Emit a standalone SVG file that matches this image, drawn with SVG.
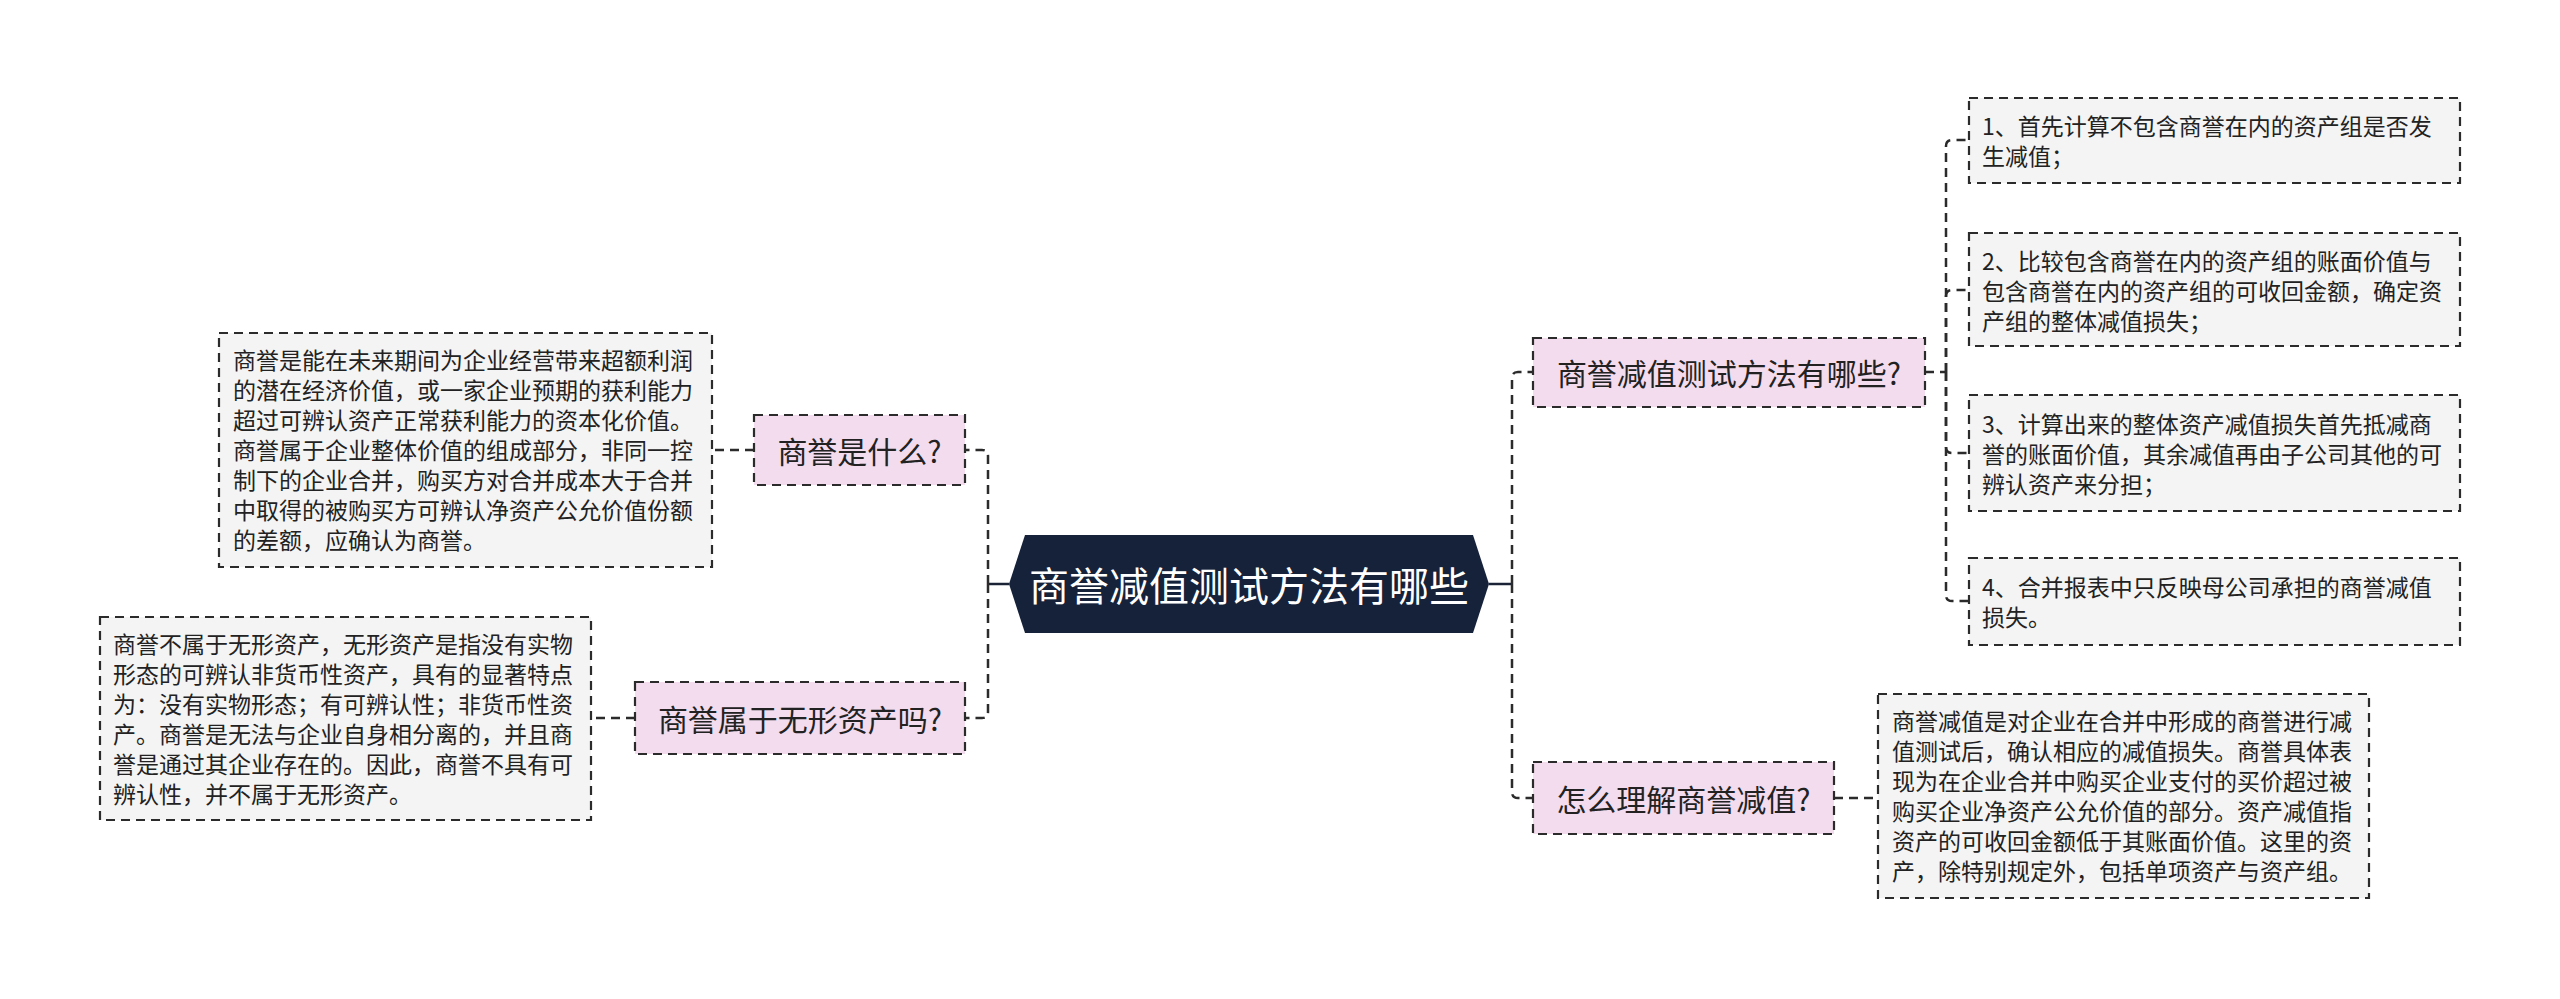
<svg xmlns="http://www.w3.org/2000/svg" width="2560" height="999" viewBox="0 0 2560 999">
<style>
.bg{fill:#ffffff}
.conn{fill:none;stroke:#2b2b2b;stroke-width:2.5;stroke-dasharray:9 6}
.solid{fill:none;stroke:#1a2436;stroke-width:2.5}
.topic{fill:#f3dcee;stroke:#2b2b2b;stroke-width:2.2;stroke-dasharray:9 6}
.note{fill:#f4f4f4;stroke:#2b2b2b;stroke-width:2.2;stroke-dasharray:9 6}
.center{fill:#16223a}
.ct{font-family:"Noto Sans CJK SC","Noto Sans",sans-serif;font-size:40px;fill:#ffffff;text-anchor:middle;dominant-baseline:central}
.tt{font-family:"Noto Sans CJK SC","Noto Sans",sans-serif;font-size:30px;fill:#222222;text-anchor:middle;dominant-baseline:central}
.nt{font-family:"Noto Sans CJK SC","Noto Sans",sans-serif;font-size:23px;fill:#222222;dominant-baseline:central}
</style>
<rect class="bg" x="0" y="0" width="2560" height="999"/>
<g id="connectors">
<path class="solid" d="M1009,584 H988"/>
<path class="conn" d="M988,584 V456 Q988,450 982,450 H965"/>
<path class="conn" d="M988,584 V712 Q988,718 982,718 H965"/>
<path class="solid" d="M1489,584 H1512"/>
<path class="conn" d="M1512,584 V378 Q1512,372 1518,372 H1533"/>
<path class="conn" d="M1512,584 V792 Q1512,798 1518,798 H1533"/>
<path class="conn" d="M754,450 H712"/>
<path class="conn" d="M635,718 H591"/>
<path class="conn" d="M1834,798 H1878"/>
<path class="conn" d="M1925,372 H1946"/>
<path class="conn" d="M1946,372 V146 Q1946,140 1952,140 H1969"/>
<path class="conn" d="M1946,372 V296 Q1946,290 1952,290 H1969"/>
<path class="conn" d="M1946,372 V447 Q1946,453 1952,453 H1969"/>
<path class="conn" d="M1946,372 V595 Q1946,601 1952,601 H1969"/>
</g>
<g id="center">
<polygon class="center" points="1009,584 1025,535 1473,535 1489,584 1473,633 1025,633"/>
<text class="ct" x="1249" y="584">商誉减值测试方法有哪些</text>
</g>
<g id="n-what">
<rect class="topic" x="754" y="415" width="211" height="70"/>
<text class="tt" x="859.5" y="450">商誉是什么?</text>
</g>
<g id="n-what-note">
<rect class="note" x="219" y="333" width="493" height="234"/>
<text class="nt" x="233" y="359">商誉是能在未来期间为企业经营带来超额利润</text>
<text class="nt" x="233" y="389">的潜在经济价值，或一家企业预期的获利能力</text>
<text class="nt" x="233" y="419">超过可辨认资产正常获利能力的资本化价值。</text>
<text class="nt" x="233" y="449">商誉属于企业整体价值的组成部分，非同一控</text>
<text class="nt" x="233" y="479">制下的企业合并，购买方对合并成本大于合并</text>
<text class="nt" x="233" y="509">中取得的被购买方可辨认净资产公允价值份额</text>
<text class="nt" x="233" y="539">的差额，应确认为商誉。</text>
</g>
<g id="n-intangible">
<rect class="topic" x="635" y="682" width="330" height="72"/>
<text class="tt" x="800" y="718">商誉属于无形资产吗?</text>
</g>
<g id="n-intangible-note">
<rect class="note" x="100" y="617" width="491" height="203"/>
<text class="nt" x="113" y="643">商誉不属于无形资产，无形资产是指没有实物</text>
<text class="nt" x="113" y="673">形态的可辨认非货币性资产，具有的显著特点</text>
<text class="nt" x="113" y="703">为：没有实物形态；有可辨认性；非货币性资</text>
<text class="nt" x="113" y="733">产。商誉是无法与企业自身相分离的，并且商</text>
<text class="nt" x="113" y="763">誉是通过其企业存在的。因此，商誉不具有可</text>
<text class="nt" x="113" y="793">辨认性，并不属于无形资产。</text>
</g>
<g id="n-methods">
<rect class="topic" x="1533" y="338" width="392" height="69"/>
<text class="tt" x="1729" y="372">商誉减值测试方法有哪些?</text>
</g>
<g id="n-item1">
<rect class="note" x="1969" y="98" width="491" height="85"/>
<text class="nt" x="1982" y="125">1、首先计算不包含商誉在内的资产组是否发</text>
<text class="nt" x="1982" y="155">生减值；</text>
</g>
<g id="n-item2">
<rect class="note" x="1969" y="233" width="491" height="113"/>
<text class="nt" x="1982" y="260">2、比较包含商誉在内的资产组的账面价值与</text>
<text class="nt" x="1982" y="290">包含商誉在内的资产组的可收回金额，确定资</text>
<text class="nt" x="1982" y="320">产组的整体减值损失；</text>
</g>
<g id="n-item3">
<rect class="note" x="1969" y="395" width="491" height="116"/>
<text class="nt" x="1982" y="423">3、计算出来的整体资产减值损失首先抵减商</text>
<text class="nt" x="1982" y="453">誉的账面价值，其余减值再由子公司其他的可</text>
<text class="nt" x="1982" y="483">辨认资产来分担；</text>
</g>
<g id="n-item4">
<rect class="note" x="1969" y="558" width="491" height="87"/>
<text class="nt" x="1982" y="586">4、合并报表中只反映母公司承担的商誉减值</text>
<text class="nt" x="1982" y="616">损失。</text>
</g>
<g id="n-understand">
<rect class="topic" x="1533" y="762" width="301" height="72"/>
<text class="tt" x="1683.5" y="798">怎么理解商誉减值?</text>
</g>
<g id="n-understand-note">
<rect class="note" x="1878" y="694" width="491" height="204"/>
<text class="nt" x="1892" y="720">商誉减值是对企业在合并中形成的商誉进行减</text>
<text class="nt" x="1892" y="750">值测试后，确认相应的减值损失。商誉具体表</text>
<text class="nt" x="1892" y="780">现为在企业合并中购买企业支付的买价超过被</text>
<text class="nt" x="1892" y="810">购买企业净资产公允价值的部分。资产减值指</text>
<text class="nt" x="1892" y="840">资产的可收回金额低于其账面价值。这里的资</text>
<text class="nt" x="1892" y="870">产，除特别规定外，包括单项资产与资产组。</text>
</g>
</svg>
